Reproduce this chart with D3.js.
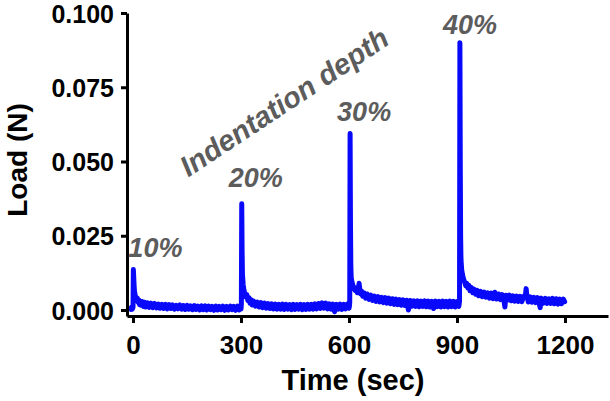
<!DOCTYPE html>
<html>
<head>
<meta charset="utf-8">
<script src="https://cdn.jsdelivr.net/npm/d3@7"></script>
<style>
  html, body { margin: 0; padding: 0; background: #fff; }
  svg { display: block; }
  text { font-family: "Liberation Sans", Arial, sans-serif; }
</style>
</head>
<body>
<svg id="chart" width="610" height="401"></svg>
<script>
// ---- data (time in sec, load in N) ----
const hold10 = [[-6,0.0002],[-4,0.0010],[-2,0.0003],[0,0.0009],[1,0.0136],[2,0.0110],[3,0.0083],[4,0.0064],[6,0.0050],[8,0.0042],[10,0.0034],[12,0.0040],[14,0.0026],[16,0.0034],[18,0.0018],[20,0.0030],[23,0.0016],[26,0.0028],[29,0.0012],[32,0.0026],[35,0.0010],[40,0.0024],[45,0.0009],[50,0.0023],[55,0.0008],[60,0.0022],[65,0.0007],[70,0.0020],[75,0.0006],[80,0.0019],[85,0.0005],[90,0.0019],[95,0.0004],[100,0.0018],[105,0.0005],[110,0.0017],[115,0.0003],[120,0.0016],[125,0.0004],[130,0.0017],[135,0.0003],[140,0.0015],[145,0.0002],[150,0.0016],[155,0.0003],[160,0.0014],[165,0.0001],[170,0.0015],[175,0.0002],[180,0.0013],[185,0.0000],[190,0.0014],[195,0.0001],[200,0.0014],[205,0.0000],[210,0.0013],[215,0.0001],[220,0.0012],[225,-0.0001],[230,0.0013],[235,0.0000],[240,0.0012],[245,0.0001],[250,0.0013],[255,-0.0001],[260,0.0012],[265,0.0000],[270,0.0013],[275,0.0001],[280,0.0012],[285,-0.0001],[290,0.0013],[295,0.0000],[299,0.0011]];
const hold20 = [[300,0.0003],[301,0.0020],[302,0.0358],[303,0.0200],[304,0.0120],[306,0.0085],[308,0.0068],[310,0.0058],[313,0.0044],[316,0.0052],[319,0.0032],[322,0.0042],[325,0.0023],[328,0.0035],[331,0.0017],[335,0.0030],[340,0.0013],[345,0.0027],[350,0.0010],[355,0.0025],[360,0.0008],[365,0.0023],[370,0.0006],[375,0.0022],[380,0.0005],[385,0.0021],[390,0.0004],[395,0.0020],[400,0.0003],[405,0.0019],[410,0.0003],[415,0.0020],[420,0.0002],[425,0.0019],[430,0.0003],[435,0.0018],[440,0.0001],[445,0.0019],[450,0.0002],[455,0.0018],[460,0.0003],[465,0.0019],[470,0.0001],[475,0.0018],[480,0.0002],[485,0.0019],[490,0.0003],[495,0.0019],[500,0.0003],[505,0.0021],[510,0.0004],[515,0.0022],[520,0.0005],[525,0.0024],[530,0.0006],[535,0.0023],[540,0.0004],[545,0.0021],[550,0.0003],[555,0.0020],[560,-0.0006],[565,0.0019],[570,0.0003],[575,0.0020],[580,0.0002],[585,0.0019],[590,0.0004],[595,0.0020],[600,0.0006]];
const hold30 = [[601,0.0012],[602,0.0025],[603,0.0594],[604,0.0300],[605,0.0150],[606,0.0110],[608,0.0095],[611,0.0082],[614,0.0072],[617,0.0066],[620,0.0074],[623,0.0058],[626,0.0070],[628,0.0090],[630,0.0070],[632,0.0054],[635,0.0064],[638,0.0046],[642,0.0058],[646,0.0040],[650,0.0054],[655,0.0036],[660,0.0050],[665,0.0032],[670,0.0047],[675,0.0029],[680,0.0045],[685,0.0027],[690,0.0043],[695,0.0025],[700,0.0042],[705,0.0023],[710,0.0040],[715,0.0021],[720,0.0038],[725,0.0019],[730,0.0037],[735,0.0018],[740,0.0035],[745,0.0016],[750,0.0034],[755,0.0015],[760,0.0033],[765,0.0000],[770,0.0032],[775,0.0013],[780,0.0031],[785,0.0012],[790,0.0031],[795,0.0011],[800,0.0030],[805,0.0012],[810,0.0031],[815,0.0011],[820,0.0030],[825,0.0010],[830,0.0029],[835,0.0005],[840,0.0030],[845,0.0011],[850,0.0029],[855,0.0010],[860,0.0030],[865,0.0011],[870,0.0029],[875,0.0010],[880,0.0030],[885,0.0011],[890,0.0029],[895,0.0010],[900,0.0028],[905,0.0012]];
const hold40 = [[906,0.0020],[907,0.0030],[908,0.0900],[909,0.0500],[910,0.0250],[911,0.0170],[913,0.0135],[915,0.0120],[918,0.0105],[921,0.0095],[924,0.0082],[927,0.0090],[930,0.0074],[933,0.0083],[936,0.0065],[940,0.0076],[944,0.0058],[948,0.0070],[952,0.0053],[956,0.0066],[960,0.0048],[965,0.0063],[970,0.0045],[975,0.0060],[980,0.0043],[985,0.0058],[990,0.0040],[995,0.0057],[1000,0.0038],[1005,0.0060],[1010,0.0037],[1015,0.0054],[1020,0.0035],[1025,0.0052],[1030,0.0034],[1033,0.0010],[1036,0.0050],[1040,0.0033],[1045,0.0050],[1050,0.0031],[1055,0.0048],[1060,0.0030],[1065,0.0047],[1070,0.0029],[1075,0.0046],[1080,0.0028],[1085,0.0046],[1090,0.0050],[1092,0.0072],[1094,0.0048],[1098,0.0027],[1103,0.0044],[1108,0.0026],[1113,0.0043],[1118,0.0025],[1123,0.0042],[1128,0.0024],[1131,0.0008],[1134,0.0040],[1140,0.0023],[1145,0.0039],[1150,0.0022],[1155,0.0038],[1160,0.0022],[1165,0.0039],[1170,0.0021],[1175,0.0038],[1180,0.0020],[1185,0.0037],[1190,0.0021],[1195,0.0037],[1199,0.0028]];

const xTicks = [0, 300, 600, 900, 1200];
const yTicks = [0.000, 0.025, 0.050, 0.075, 0.100];
const depthLabels = ["10%", "20%", "30%", "40%"];
const depthPeakTimes = [1, 302, 603, 908];
const depthPeakLoads = [0.0136, 0.0358, 0.0594, 0.0900];
const annotation = "Indentation depth";
const xTitle = "Time (sec)";
const yTitle = "Load (N)";

// ---- layout ----
const svg = d3.select("#chart");
const x = d3.scaleLinear().domain([-16.7, 1319.4]).range([127, 608]);
const y = d3.scaleLinear().domain([-0.00202, 0.1]).range([316, 13]);

const blue = "#0808fa";
const gray = "#5c5c5c";

// trace
const line = d3.line().x(d => x(d[0])).y(d => y(d[1]));
const trace = [].concat(hold10, hold20, hold30, hold40);
svg.append("path")
  .datum(trace)
  .attr("d", line)
  .attr("fill", "none")
  .attr("stroke", blue)
  .attr("stroke-width", 5)
  .attr("stroke-linejoin", "round")
  .attr("stroke-linecap", "round");

// axes
const xAxis = d3.axisBottom(x).tickValues(xTicks).tickFormat(d3.format("d"))
  .tickSize(7).tickSizeOuter(0).tickPadding(13);
const gx = svg.append("g").attr("transform", "translate(0,316)").call(xAxis);
const yAxis = d3.axisLeft(y).tickValues(yTicks).tickFormat(d3.format(".3f"))
  .tickSize(6).tickSizeOuter(0).tickPadding(7);
const gy = svg.append("g").attr("transform", "translate(127,0)").call(yAxis);

[gx, gy].forEach(g => {
  g.select(".domain").attr("stroke", "#000").attr("stroke-width", 3);
  g.selectAll(".tick line").attr("stroke", "#000").attr("stroke-width", 3);
  g.selectAll(".tick text")
    .attr("fill", "#000")
    .style("font-weight", "bold")
    .style("font-family", "'Liberation Sans', Arial, sans-serif");
});
gx.selectAll(".tick text").style("font-size", "26px");
gy.selectAll(".tick text").style("font-size", "25px").attr("dy", "0.36em");

// axis titles
svg.append("text")
  .attr("x", 353).attr("y", 390)
  .attr("text-anchor", "middle")
  .style("font-size", "29px").style("font-weight", "bold")
  .text(xTitle);
svg.append("text")
  .attr("transform", "translate(27,160) rotate(-90)")
  .attr("text-anchor", "middle")
  .style("font-size", "28px").style("font-weight", "bold")
  .text(yTitle);

// depth labels above peaks
const labelDx = [-5, -13, -13, -17];
const labelDy = [13, 17, 13, 9];
svg.selectAll("text.depth")
  .data(depthLabels)
  .join("text")
  .attr("class", "depth")
  .attr("x", (d, i) => x(depthPeakTimes[i]) + labelDx[i])
  .attr("y", (d, i) => y(depthPeakLoads[i]) - labelDy[i])
  .attr("fill", gray)
  .style("font-size", "27px")
  .style("font-weight", "bold")
  .style("font-style", "italic")
  .text(d => d);

// rotated annotation
svg.append("text")
  .attr("transform", "translate(284,102) rotate(-33.5)")
  .attr("text-anchor", "middle")
  .attr("dy", "0.35em")
  .attr("fill", gray)
  .style("font-size", "29px")
  .style("font-weight", "bold")
  .style("font-style", "italic")
  .text(annotation);
</script>
</body>
</html>
